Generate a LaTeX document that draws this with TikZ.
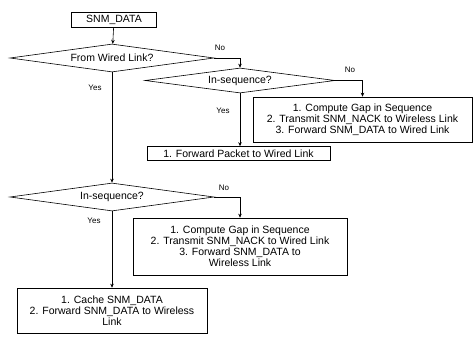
\documentclass[tikz,border=0pt]{standalone}
\usepackage{fontspec}
\setmainfont{Liberation Sans}
\usetikzlibrary{shapes.geometric,arrows.meta}

\begin{document}
\begin{tikzpicture}[x=1pt,y=1pt,
  font=\fontsize{10.5}{11}\selectfont,
  box/.style={draw, rectangle, inner sep=0pt, align=center, line width=0.6pt},
  dec/.style={draw, diamond, aspect=8, inner sep=0pt, line width=0.6pt},
  flow/.style={line width=0.6pt, -{Stealth[length=4pt,width=3.5pt]}},
  lbl/.style={font=\fontsize{8}{9}\selectfont, inner sep=1pt}]
\useasboundingbox (0,0) rectangle (474,-342);

% start
\node[box, minimum width=85pt, minimum height=15pt] (data) at (114,-20) {SNM\_DATA};

% first test: packet origin
\node[dec, minimum width=204pt, minimum height=28pt] (d1) at (112,-58) {From Wired Link?};

% branch for packets from the wired side
\node[dec, minimum width=190pt, minimum height=25pt] (d2) at (240,-80.5) {In-sequence?};
\node[box, minimum width=219pt, minimum height=45pt] (r1) at (362.5,-119.5)
  {1. Compute Gap in Sequence\\2. Transmit SNM\_NACK to Wireless Link\\3. Forward SNM\_DATA to Wired Link};
\node[box, minimum width=183pt, minimum height=14pt] (fwd) at (238.5,-153.5)
  {1. Forward Packet to Wired Link};

% branch for packets from the wireless side
\node[dec, minimum width=204pt, minimum height=28pt] (d3) at (112,-197) {In-sequence?};
\node[box, minimum width=214pt, minimum height=57pt] (r2) at (240,-246.5)
  {1. Compute Gap in Sequence\\2. Transmit SNM\_NACK to Wired Link\\3. Forward SNM\_DATA to\\Wireless Link};
\node[box, minimum width=190pt, minimum height=45pt] (cache) at (112,-310.5)
  {1. Cache SNM\_DATA\\2. Forward SNM\_DATA to Wireless\\Link};

% connectors
\draw[flow] (data) -- (d1);
\draw[flow] (d1.east) -| (d2.north);
\draw[flow] (d2.east) -| (r1.north);
\draw[flow] (d2.south) -- (d2.south |- fwd.north);
\draw[flow] (d1.south) -- (d3.north);
\draw[flow] (d3.east) -| (r2.north);
\draw[flow] (d3.south) -- (cache.north);

% branch labels
\node[lbl] (n1) at (220,-48) {No};
\node[lbl] (n2) at (350,-70) {No};
\node[lbl] (y2) at (223,-111) {Yes};
\node[lbl] (y1) at (95,-88) {Yes};
\node[lbl] (n3) at (224,-188) {No};
\node[lbl] (y3) at (94,-221) {Yes};
\end{tikzpicture}
\end{document}
